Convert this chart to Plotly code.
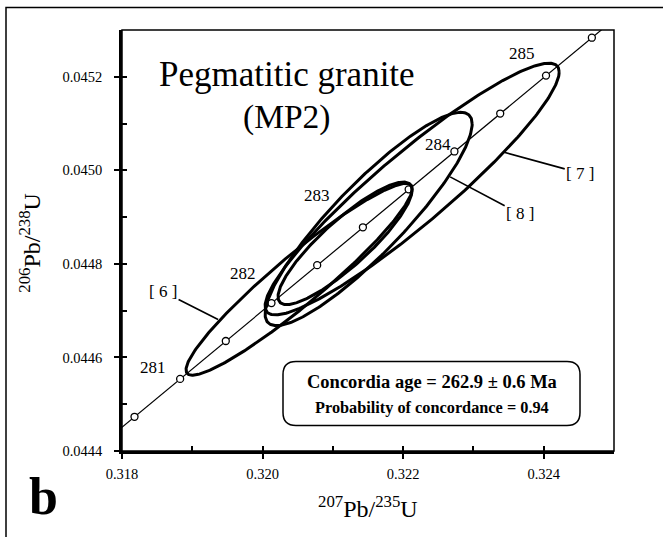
import numpy as np
import plotly.graph_objects as go

# ---- data ----
# concordia marker ages (Ma)
ages = [280.0, 280.5, 281.0, 281.5, 282.0, 282.5, 283.0, 283.5, 284.0, 284.5, 285.0, 285.5, 286.0]
labelled_ages = [281, 282, 283, 284, 285]
label_shift_x = [-27, -28, -46, -16, -24]
label_shift_y = [11, 30, 32, 7, 22]
lam238 = 1.55125e-10
lam235 = 9.8485e-10

# error ellipses: centre, half-extent in x and y, correlation
ell_names = ["[ 6 ]", "[ 7 ]", "[ 8 ]", "mean"]
ell_cx = [0.320520, 0.322128, 0.321509, 0.321174]
ell_cy = [0.044767, 0.044960, 0.044896, 0.044844]
ell_ex = [0.001609, 0.002092, 0.001473, 0.000954]
ell_ey = [0.000205, 0.000269, 0.000228, 0.000131]
ell_rho = [0.944, 0.93, 0.89, 0.87]

# leader lines: point on ellipse (data) and label offset (px)
lead_names = ["[ 6 ]", "[ 7 ]", "[ 8 ]"]
lead_x = [0.319367, 0.323424, 0.322669]
lead_y = [0.044681, 0.045039, 0.044986]
lead_ax = [-55, 77, 70]
lead_ay = [-28, 21, 37]

x_ticks = [0.318, 0.320, 0.322, 0.324]
y_ticks = [0.0444, 0.0446, 0.0448, 0.0450, 0.0452]

# ---- geometry (px) ----
W, H = 663, 537
L, R, T, B = 122, 49, 30, 85.5
PW, PH = W - L - R, H - T - B
def px2paper(x, y):
    return (x - L) / PW, (H - B - y) / PH

SERIF = "Liberation Serif, Times New Roman, serif"

fig = go.Figure()

# concordia
a = np.array(ages)
cx_c = np.exp(lam235 * a * 1e6) - 1
cy_c = np.exp(lam238 * a * 1e6) - 1
fig.add_trace(go.Scatter(x=cx_c, y=cy_c, mode="lines+markers",
                         line=dict(color="black", width=1.2),
                         marker=dict(symbol="circle", size=7, color="white",
                                     line=dict(color="black", width=1.3)),
                         hoverinfo="skip", showlegend=False))

# ellipses
t = np.linspace(0, 2 * np.pi, 361)
for cx, cy, ex, ey, rho in zip(ell_cx, ell_cy, ell_ex, ell_ey, ell_rho):
    xs = cx + ex * np.cos(t)
    ys = cy + ey * (rho * np.cos(t) + np.sqrt(1 - rho ** 2) * np.sin(t))
    fig.add_trace(go.Scatter(x=xs, y=ys, mode="lines",
                             line=dict(color="black", width=3),
                             hoverinfo="skip", showlegend=False))

ann = []
for age, sx, sy in zip(labelled_ages, label_shift_x, label_shift_y):
    ann.append(dict(x=np.exp(lam235 * age * 1e6) - 1, y=np.exp(lam238 * age * 1e6) - 1,
                    xref="x", yref="y", text=str(age), showarrow=False,
                    xanchor="center", yanchor="middle",
                    xshift=sx, yshift=sy, font=dict(family=SERIF, size=17, color="black")))

for name, lx, ly, axp, ayp in zip(lead_names, lead_x, lead_y, lead_ax, lead_ay):
    ann.append(dict(x=lx, y=ly, xref="x", yref="y", text=name, showarrow=True,
                    arrowhead=0, arrowwidth=1.6, arrowcolor="black", ax=axp, ay=ayp,
                    font=dict(family=SERIF, size=17, color="black")))

def txt(x, y, text, size, angle=0):
    px, py = px2paper(x, y)
    ann.append(dict(x=px, y=py, xref="paper", yref="paper", text=text, textangle=angle,
                    showarrow=False, xanchor="center", yanchor="middle",
                    font=dict(family=SERIF, size=size, color="black")))

txt(287, 75, "Pegmatitic granite", 35)
txt(286, 117, "(MP2)", 33.5)
txt(431.5, 382, "<b>Concordia age = 262.9 ± 0.6 Ma</b>", 18.5)
txt(432, 408, "<b>Probability of concordance = 0.94</b>", 16.3)
txt(43, 497, "<b>b</b>", 52)
txt(368, 508, "<sup>207</sup>Pb/<sup>235</sup>U", 24)
txt(30, 243, "<sup>206</sup>Pb/<sup>238</sup>U", 24, -90)

# rounded box
bx0, by0 = px2paper(283, 362)
bx1, by1 = px2paper(580, 426)
rx, ry = 13 / PW, 13 / PH
path = (f"M {bx0+rx},{by0} L {bx1-rx},{by0} Q {bx1},{by0} {bx1},{by0-ry} "
        f"L {bx1},{by1+ry} Q {bx1},{by1} {bx1-rx},{by1} L {bx0+rx},{by1} "
        f"Q {bx0},{by1} {bx0},{by1+ry} L {bx0},{by0-ry} Q {bx0},{by0} {bx0+rx},{by0} Z")
shapes = [
    dict(type="path", xref="paper", yref="paper", path=path,
         line=dict(color="black", width=1.5), fillcolor="white", layer="below"),
    dict(type="rect", xref="paper", yref="paper", x0=0, y0=0, x1=1, y1=1,
         line=dict(color="black", width=1.5), layer="above"),
]
fx0, fy0 = px2paper(6, 7.5)
shapes.append(dict(type="rect", xref="paper", yref="paper", x0=fx0, y0=-1, x1=2, y1=fy0,
                   line=dict(color="black", width=1.5), layer="above"))

tickfont = dict(family=SERIF, size=14.5, color="black")
fig.update_layout(
    width=W, height=H, margin=dict(l=L, r=R, t=T, b=B),
    paper_bgcolor="white", plot_bgcolor="white", showlegend=False,
    annotations=ann, shapes=shapes,
    xaxis=dict(range=[0.318, 0.325], tickvals=x_ticks, ticktext=[f"{v:.3f}" for v in x_ticks],
               ticks="outside", ticklen=5, tickwidth=2, tickcolor="black", tickfont=tickfont,
               ticklabelstandoff=3,
               showline=True, linewidth=2.5, linecolor="black", showgrid=False, zeroline=False),
    yaxis=dict(range=[0.0444, 0.0453], tickvals=y_ticks, ticktext=[f"{v:.4f}" for v in y_ticks],
               ticks="outside", ticklen=5, tickwidth=2, tickcolor="black", tickfont=tickfont,
               ticklabelstandoff=9,
               showline=True, linewidth=2.5, linecolor="black", showgrid=False, zeroline=False),
    xaxis2=dict(range=[0.318, 0.325], overlaying="x", anchor="y", side="bottom",
                tickvals=x_ticks, ticks="inside", ticklen=5, tickwidth=2, tickcolor="black",
                showticklabels=False, showgrid=False, zeroline=False, showline=False,
                minor=dict(tickvals=[0.319, 0.321, 0.323], ticks="inside", ticklen=5,
                           tickwidth=1.5, tickcolor="black", showgrid=False)),
    yaxis2=dict(range=[0.0444, 0.0453], overlaying="y", anchor="x", side="left",
                tickvals=y_ticks, ticks="inside", ticklen=5, tickwidth=2, tickcolor="black",
                showticklabels=False, showgrid=False, zeroline=False, showline=False,
                minor=dict(tickvals=[0.0445, 0.0447, 0.0449, 0.0451], ticks="inside", ticklen=5,
                           tickwidth=1.5, tickcolor="black", showgrid=False)),
)
# invisible trace to activate the overlay axes
fig.add_trace(go.Scatter(x=[0.318], y=[0.0444], xaxis="x2", yaxis="y2", mode="markers",
                         marker=dict(opacity=0), hoverinfo="skip", showlegend=False))

fig.write_html("out.html", config={"displayModeBar": False},
               post_script="document.body.style.margin='0px';")
